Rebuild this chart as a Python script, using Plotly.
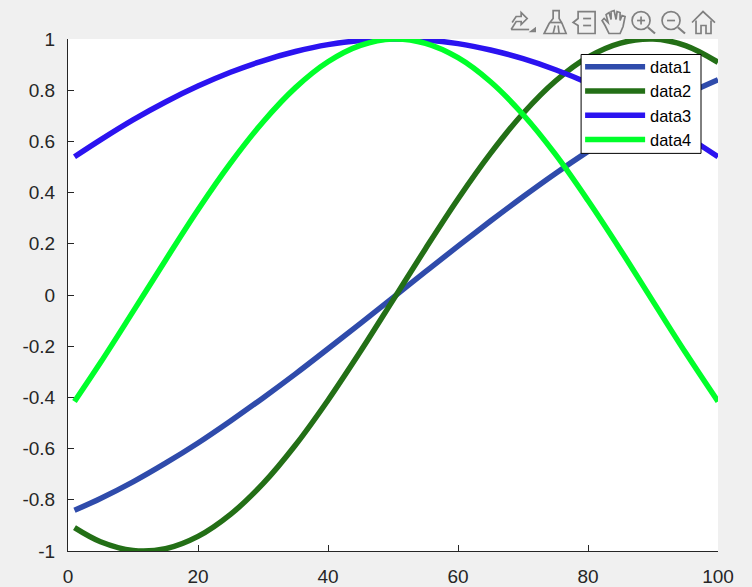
"""MATLAB-style figure with four line series, a boxed legend and the axes toolbar."""

import plotly.graph_objects as go

WIDTH = 752
HEIGHT = 587
LEFT, RIGHT, TOP, BOTTOM = 67.5, 718, 38.5, 551

x_values = [1, 5, 10, 15, 20, 25, 30, 35, 40, 45, 50, 55, 60, 65, 70, 75, 80, 85, 90, 95, 100]
data1 = [-0.841, -0.795, -0.730, -0.657, -0.578, -0.492, -0.402, -0.308, -0.210, -0.111, -0.010,
         0.091, 0.191, 0.289, 0.384, 0.475, 0.561, 0.642, 0.716, 0.783, 0.841]
data2 = [-0.909, -0.964, -0.998, -0.991, -0.943, -0.857, -0.737, -0.586, -0.411, -0.220, -0.020,
         0.181, 0.375, 0.553, 0.709, 0.836, 0.929, 0.984, 1.000, 0.974, 0.909]
data3 = [0.540, 0.606, 0.684, 0.754, 0.816, 0.870, 0.915, 0.951, 0.978, 0.994, 1.000,
         0.996, 0.982, 0.957, 0.923, 0.880, 0.828, 0.767, 0.698, 0.622, 0.540]
data4 = [-0.416, -0.264, -0.065, 0.136, 0.333, 0.515, 0.676, 0.810, 0.911, 0.975, 1.000,
         0.983, 0.927, 0.833, 0.705, 0.549, 0.369, 0.176, -0.025, -0.225, -0.416]

series_names = ["data1", "data2", "data3", "data4"]
series_values = [data1, data2, data3, data4]
series_colors = ["#2f4bab", "#236f16", "#2b13f0", "#00ff2a"]

x_ticks = [0, 20, 40, 60, 80, 100]
y_ticks = [-1, -0.8, -0.6, -0.4, -0.2, 0, 0.2, 0.4, 0.6, 0.8, 1]
y_tick_labels = ["-1", "-0.8", "-0.6", "-0.4", "-0.2", "0", "0.2", "0.4", "0.6", "0.8", "1"]

ICON_GREY = "#808080"


def px(x):
    return (x - LEFT) / (RIGHT - LEFT)


def py(y):
    return (BOTTOM - y) / (BOTTOM - TOP)


def poly(points, close=False):
    path = "M " + " L ".join(f"{px(x):.5f},{py(y):.5f}" for x, y in points)
    return path + (" Z" if close else "")


def icon_line(points, close=False, width=1.7):
    return dict(type="path", xref="paper", yref="paper", path=poly(points, close),
                line=dict(color=ICON_GREY, width=width))


def icon_circle(cx, cy, r):
    return dict(type="circle", xref="paper", yref="paper",
                x0=px(cx - r), x1=px(cx + r), y0=py(cy + r), y1=py(cy - r),
                line=dict(color=ICON_GREY, width=1.7))


def toolbar_shapes():
    shapes = [
        # export arrow
        icon_line([(511, 29), (516, 21), (521, 21), (521, 24), (527, 18), (521, 12), (521, 16),
                   (516, 16), (512, 22)]),
        icon_line([(511, 29), (529, 29)]),
        icon_line([(531, 31), (535, 31), (535, 28)], close=True),
        # brush
        icon_line([(553, 10), (559, 10), (559, 18), (562, 23), (566, 33), (544, 33), (549, 23),
                   (553, 18)], close=True),
        icon_line([(550, 22), (562, 22)]),
        icon_line([(553, 33), (555, 25)]),
        icon_line([(559, 33), (558, 25)]),
        # legend
        icon_line([(578, 11), (595, 11), (595, 33), (578, 33), (578, 25), (573, 22), (578, 18)],
                  close=True),
        icon_line([(583, 18), (591, 18)]),
        icon_line([(583, 25), (591, 25)]),
        # hand
        icon_line([(609, 33), (605, 25), (602, 20), (604, 18), (608, 22), (606, 14), (609, 12),
                   (611, 19), (611, 11), (614, 10), (616, 19), (617, 11), (620, 12), (620, 20),
                   (622, 15), (625, 16), (623, 26), (620, 33)], close=True),
        # zoom in
        icon_circle(641, 20, 9),
        icon_line([(648, 27), (655, 33)], width=2.2),
        icon_line([(637, 20), (645, 20)]),
        icon_line([(641, 16), (641, 24)]),
        # zoom out
        icon_circle(671, 20, 9),
        icon_line([(678, 27), (685, 33)], width=2.2),
        icon_line([(667, 20), (675, 20)]),
        # home
        icon_line([(692, 22), (703, 11), (715, 22)]),
        icon_line([(696, 20), (696, 33), (701, 33), (701, 25), (706, 25), (706, 33), (711, 33),
                   (711, 20)]),
    ]
    return shapes


# legend box is a shape so its height can be tighter than plotly's own padding allows
legend_box = dict(type="rect", xref="paper", yref="paper", layer="above",
                  x0=px(581), x1=px(701), y0=py(153), y1=py(54),
                  fillcolor="#ffffff", line=dict(color="#000000", width=1))

fig = go.Figure()
for name, values, color in zip(series_names, series_values, series_colors):
    fig.add_trace(
        go.Scatter(
            x=x_values,
            y=values,
            name=name,
            mode="lines",
            cliponaxis=False,
            line=dict(color=color, width=5.5, shape="spline"),
        )
    )

axis_style = dict(
    showgrid=False,
    zeroline=False,
    showline=True,
    linecolor="#262626",
    linewidth=1,
    ticks="inside",
    ticklen=6,
    tickwidth=1,
    tickcolor="#262626",
    layer="below traces",
    automargin=False,
)

fig.update_layout(
    width=WIDTH,
    height=HEIGHT,
    autosize=False,
    paper_bgcolor="#f0f0f0",
    plot_bgcolor="#ffffff",
    margin=dict(l=LEFT, r=WIDTH - RIGHT, t=TOP, b=HEIGHT - BOTTOM, pad=0),
    font=dict(family="Liberation Sans", size=19, color="#262626"),
    xaxis=dict(range=[0, 100], tickmode="array", tickvals=x_ticks, ticklabelstandoff=8,
               **axis_style),
    yaxis=dict(range=[-1, 1], tickmode="array", tickvals=y_ticks, ticktext=y_tick_labels,
               ticklabelstandoff=8, **axis_style),
    legend=dict(
        x=px(580),
        y=py(49),
        xanchor="left",
        yanchor="top",
        bgcolor="rgba(0,0,0,0)",
        borderwidth=0,
        itemwidth=60,
        font=dict(family="Liberation Sans", size=16.4, color="#000000"),
    ),
    shapes=toolbar_shapes() + [legend_box],
)

fig.write_html(
    "out.html",
    config={"displayModeBar": False},
    post_script="document.body.style.margin = '0'; document.body.style.overflow = 'hidden';",
)
